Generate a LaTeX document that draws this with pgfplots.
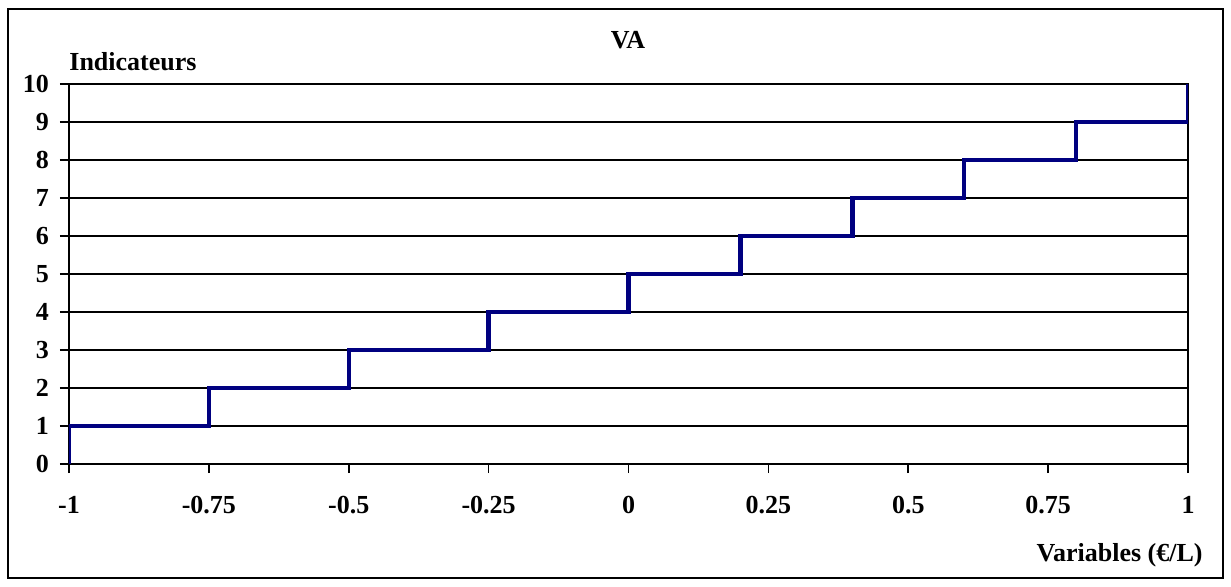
\documentclass[border=0pt]{standalone}
\usepackage{pgfplots}
\pgfplotsset{compat=1.18}
\usepackage{fontspec}
\setmainfont{Liberation Serif}
\definecolor{navy}{RGB}{0,0,128}
\begin{document}
\fontsize{13}{15}\selectfont\bfseries
\begin{tikzpicture}
\useasboundingbox (-34.5pt,-61pt) rectangle (581pt,232pt);
\draw[line width=0.8pt] (-30.5pt,-57pt) rectangle (577pt,227.5pt);
\begin{axis}[
    at={(0pt,0pt)}, anchor=south west,
    scale only axis,
    width=559.5pt, height=190pt,
    xmin=-1, xmax=1, ymin=0, ymax=10,
    xtick={-1,-0.75,-0.5,-0.25,0,0.25,0.5,0.75,1},
    xticklabels={-1,-0.75,-0.5,-0.25,0,0.25,0.5,0.75,1},
    ytick={0,1,...,10},
    yticklabels={0,1,2,3,4,5,6,7,8,9,10},
    tick align=outside,
    major tick length=4.5pt,
    tick style={black, line width=0.8pt},
    xtick pos=bottom, ytick pos=left,
    ymajorgrids,
    grid style={black, line width=0.6pt},
    axis line style={black, line width=0.9pt},
    xticklabel style={font=\fontsize{13}{15}\selectfont\bfseries, yshift=-7pt},
    yticklabel style={font=\fontsize{13}{15}\selectfont\bfseries, xshift=-1pt},
]
\addplot[navy, line width=2.2pt, const plot mark right] coordinates {
    (-1,0) (-0.75,1) (-0.5,2) (-0.25,3) (0,4) (0.2,5) (0.4,6) (0.6,7) (0.8,8) (1,9) (1,10)
};
\end{axis}
\node at (279.5pt,212pt) {VA};
\node[anchor=west, inner sep=0pt] at (0pt,201pt) {Indicateurs};
\node[anchor=east, inner sep=0pt] at (567pt,-45.5pt) {Variables (€/L)};
\end{tikzpicture}
\end{document}
